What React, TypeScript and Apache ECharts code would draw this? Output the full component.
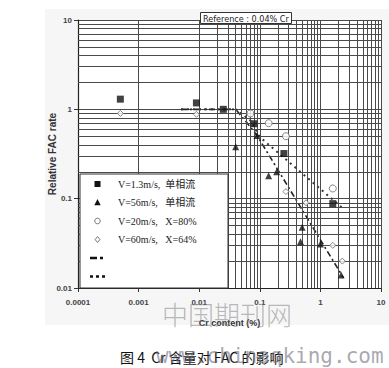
import React, { useEffect, useRef } from "react";
import * as echarts from "echarts";

const xTickLabels = ["0.0001", "0.001", "0.01", "0.1", "1", "10"];
const yTickLabels = ["0.01", "0.1", "1", "10"];
const xDecades = [0.0001, 0.001, 0.01, 0.1, 1];
const yDecades = [0.01, 0.1, 1];
const minorSteps = [2, 3, 4, 5, 6, 7, 8, 9];

const seriesNames = [
  "V=1.3m/s,  单相流",
  "V=56m/s,   单相流",
  "V=20m/s,   X=80%",
  "V=60m/s,   X=64%",
  "",
  "",
];

const squares = [[0.0005, 1.3], [0.009, 1.18], [0.025, 1.0], [0.08, 0.69], [0.25, 0.32], [1.6, 0.088]];
const triangles = [[0.04, 0.38], [0.09, 0.51], [0.14, 0.18], [0.19, 0.2], [0.5, 0.048], [0.47, 0.033], [1.0, 0.031], [2.2, 0.014]];
const circles = [[0.07, 0.9], [0.14, 0.7], [0.27, 0.5], [1.6, 0.13]];
const diamonds = [[0.0005, 0.9], [0.009, 0.88], [0.27, 0.12], [0.58, 0.09], [1.6, 0.03], [2.3, 0.02]];
const fitDashDot = [[0.005, 1.0], [0.04, 1.0], [0.06, 0.72], [0.09, 0.51], [2.4, 0.013]];
const fitDotted = [[0.005, 1.0], [0.04, 1.0], [0.07, 0.75], [0.1, 0.49], [2.4, 0.077]];

const referenceText = "Reference : 0.04% Cr";
const xName = "Cr content (%)";
const yName = "Relative FAC rate";
const captionText = "图 4  Cr 含量对 FAC 的影响";
const watermark1 = "中国期刊网";
const watermark2 = "www.chinaqking.com";

export default function App() {
  const ref = useRef<HTMLDivElement>(null);
  useEffect(() => {
    if (!ref.current) return;
    const chart = echarts.init(ref.current, undefined, { renderer: "svg" });
    const minorX: any[] = [];
    xDecades.forEach((d) => minorSteps.forEach((m) => minorX.push({ xAxis: d * m })));
    const minorY: any[] = [];
    yDecades.forEach((d) => minorSteps.forEach((m) => minorY.push({ yAxis: d * m })));
    const gridLineColor = "#4a4a4a";
    const labelFont = "Liberation Sans, Arial, sans-serif";
    const legendFont = "Liberation Serif, Noto Sans CJK SC, serif";

    // legend drawn as graphic elements
    const lgX = 80, lgY = 174, lgW = 148, lgH = 114;
    const iconX = 97.5, textX = 118, row0 = 184, rowGap = 18.5;
    const legendEls: any[] = [
      {
        type: "rect",
        z: 9,
        shape: { x: lgX, y: lgY, width: lgW, height: lgH },
        style: { fill: "#ffffff", stroke: "#333", lineWidth: 1 },
        silent: true,
      },
    ];
    const rowY = (i: number) => row0 + i * rowGap;
    legendEls.push({ type: "rect", z: 10, shape: { x: iconX - 3, y: rowY(0) - 3, width: 6, height: 6 }, style: { fill: "#111" } });
    legendEls.push({
      type: "polygon", z: 10,
      shape: { points: [[iconX, rowY(1) - 3.5], [iconX + 3.2, rowY(1) + 2.8], [iconX - 3.2, rowY(1) + 2.8]] },
      style: { fill: "#111" },
    });
    legendEls.push({ type: "circle", z: 10, shape: { cx: iconX, cy: rowY(2), r: 2.8 }, style: { fill: "#fff", stroke: "#777", lineWidth: 1 } });
    legendEls.push({
      type: "polygon", z: 10,
      shape: { points: [[iconX, rowY(3) - 3], [iconX + 2.4, rowY(3)], [iconX, rowY(3) + 3], [iconX - 2.4, rowY(3)]] },
      style: { fill: "#fff", stroke: "#777", lineWidth: 1 },
    });
    legendEls.push({
      type: "line", z: 10,
      shape: { x1: 90, y1: rowY(4), x2: 104, y2: rowY(4) },
      style: { stroke: "#111", lineWidth: 2.6, lineDash: [7, 3, 3, 3] },
    });
    legendEls.push({
      type: "line", z: 10,
      shape: { x1: 90, y1: rowY(5), x2: 105, y2: rowY(5) },
      style: { stroke: "#111", lineWidth: 2.6, lineDash: [3, 3] },
    });
    for (let i = 0; i < 4; i++) {
      legendEls.push({
        type: "text", z: 10, x: textX, y: rowY(i),
        style: { text: seriesNames[i], fontFamily: legendFont, fontSize: 10, fill: "#222", verticalAlign: "middle" },
      });
    }

    chart.setOption({
      animation: false,
      backgroundColor: "#ffffff",
      title: {
        text: referenceText,
        left: 200,
        top: 12,
        padding: [2, 3, 1, 3],
        borderColor: "#333",
        borderWidth: 1,
        backgroundColor: "#fff",
        textStyle: {
          fontSize: 9,
          fontWeight: "normal",
          fontFamily: "Liberation Sans Narrow, DejaVu Sans Condensed, sans-serif",
          color: "#222",
        },
        z: 8,
      },
      grid: {
        left: 78,
        top: 20,
        right: 8,
        bottom: 80,
        show: true,
        backgroundColor: "#ffffff",
        borderWidth: 0,
      },
      xAxis: {
        type: "log",
        logBase: 10,
        min: 0.0001,
        max: 10,
        name: xName,
        nameLocation: "middle",
        nameGap: 30,
        nameMoveOverlap: false,
        nameTextStyle: { fontFamily: labelFont, fontSize: 9, fontWeight: "bold", color: "#333" },
        axisLine: { show: true, lineStyle: { color: "#222", width: 1.2 } },
        axisTick: { show: true, length: 4, lineStyle: { color: "#333" } },
        axisLabel: {
          margin: 10,
          fontFamily: labelFont,
          fontSize: 8,
          fontWeight: "bold",
          color: "#444",
          formatter: (v: number) => xTickLabels[Math.round(Math.log10(v)) + 4] ?? "",
        },
        splitLine: { show: true, lineStyle: { color: gridLineColor, width: 1 } },
      },
      yAxis: {
        type: "log",
        logBase: 10,
        min: 0.01,
        max: 10,
        name: yName,
        nameLocation: "middle",
        nameGap: 21,
        nameRotate: 90,
        nameMoveOverlap: false,
        nameTextStyle: { fontFamily: labelFont, fontSize: 10, fontWeight: "bold", color: "#333" },
        axisLine: { show: true, lineStyle: { color: "#222", width: 1.2 } },
        axisTick: { show: true, length: 4, lineStyle: { color: "#333" } },
        axisLabel: {
          margin: 6,
          fontFamily: labelFont,
          fontSize: 8,
          fontWeight: "bold",
          color: "#444",
          formatter: (v: number) => yTickLabels[Math.round(Math.log10(v)) + 2] ?? "",
        },
        splitLine: { show: true, lineStyle: { color: gridLineColor, width: 1 } },
      },
      graphic: [
        {
          type: "rect",
          z: -10,
          shape: { x: 45, y: 9, width: 344, height: 316 },
          style: { fill: "#f6f6f6" },
          silent: true,
        },
        ...legendEls,
        {
          type: "text",
          z: 20,
          x: 120,
          y: 357,
          style: {
            text: captionText,
            fontFamily: "Noto Sans CJK SC, sans-serif",
            fontSize: 14,
            fill: "#111",
            verticalAlign: "middle",
          },
        },
        {
          type: "text",
          z: 21,
          x: 162,
          y: 313,
          style: {
            text: watermark1,
            fontFamily: "Noto Sans CJK SC, sans-serif",
            fontSize: 26,
            fontWeight: 300,
            fill: "rgba(120,120,120,0.5)",
            verticalAlign: "middle",
          },
        },
        {
          type: "text",
          z: 21,
          x: 156,
          y: 356,
          style: {
            text: watermark2,
            fontFamily: "DejaVu Sans Mono, monospace",
            fontSize: 21,
            fill: "rgba(110,110,125,0.6)",
            verticalAlign: "middle",
          },
        },
      ],
      series: [
        {
          name: "minorGrid",
          type: "line",
          data: [],
          z: 1,
          silent: true,
          markLine: {
            silent: true,
            symbol: ["none", "none"],
            label: { show: false },
            lineStyle: { color: gridLineColor, width: 1, type: "solid" },
            emphasis: { disabled: true },
            data: [...minorX, ...minorY],
          },
        },
        {
          name: seriesNames[0],
          type: "scatter",
          z: 5,
          symbol: "rect",
          symbolSize: 7,
          itemStyle: { color: "#111" },
          data: squares,
        },
        {
          name: seriesNames[1],
          type: "scatter",
          z: 5,
          symbol: "triangle",
          symbolSize: 7,
          itemStyle: { color: "#111" },
          data: triangles,
        },
        {
          name: seriesNames[2],
          type: "scatter",
          z: 5,
          symbol: "circle",
          symbolSize: 7,
          itemStyle: { color: "#fff", borderColor: "#666", borderWidth: 1 },
          data: circles,
        },
        {
          name: seriesNames[3],
          type: "scatter",
          z: 5,
          symbol: "diamond",
          symbolSize: 6,
          itemStyle: { color: "#fff", borderColor: "#666", borderWidth: 1 },
          data: diamonds,
        },
        {
          name: "fitDashDot",
          type: "line",
          z: 4,
          symbol: "none",
          lineStyle: { color: "#222", width: 1.6, type: [6, 3, 2, 3] },
          data: fitDashDot,
        },
        {
          name: "fitDotted",
          type: "line",
          z: 4,
          symbol: "none",
          lineStyle: { color: "#333", width: 2, type: [2, 4] },
          data: fitDotted,
        },
      ],
    });
    return () => chart.dispose();
  }, []);
  return (
    <div
      ref={ref}
      style={{ position: "absolute", left: 0, top: 0, width: 389, height: 368, background: "#fff" }}
    />
  );
}
